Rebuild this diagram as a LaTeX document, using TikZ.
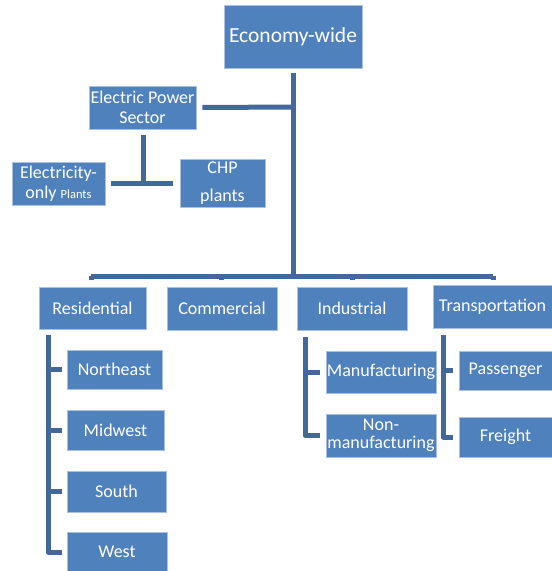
\documentclass[tikz,border=0pt]{standalone}
\usepackage{fontspec}
\setmainfont{Carlito}
\begin{document}
\begin{tikzpicture}[x=1pt,y=-1pt,
  box/.style={rectangle, fill=boxblue, draw=boxedge, line width=0.6pt, text=white, align=center, inner sep=0pt, font=\fontsize{18}{20}\selectfont},
  conn/.style={draw=linkblue, line width=5pt, line join=round, line cap=butt}]
\definecolor{boxblue}{HTML}{4F81BD}
\definecolor{boxedge}{HTML}{A9C0DE}
\definecolor{linkblue}{HTML}{43699B}
\useasboundingbox (0,0) rectangle (552,571);
% nodes
\node[box, minimum width=138pt, minimum height=63pt, font=\fontsize{21.5}{24}\selectfont] (econ) at (293,36.5) {Economy-wide};
\node[box, minimum width=107pt, minimum height=43pt, font=\fontsize{18}{20}\selectfont] (eps) at (142.5,107.5) {Electric Power\\Sector};
\node[box, minimum width=93pt, minimum height=43pt, font=\fontsize{18}{20}\selectfont] (elec) at (58.5,183.5) {Electricity-\\only {\fontsize{12.5}{14}\selectfont Plants}};
\node[box, minimum width=85pt, minimum height=48pt, font=\fontsize{18}{28}\selectfont] (chp) at (222.5,183) {CHP\\plants};
\node[box, minimum width=107pt, minimum height=42pt] (res) at (92.5,308) {Residential};
\node[box, minimum width=110pt, minimum height=43pt] (com) at (222,308.5) {Commercial};
\node[box, minimum width=110pt, minimum height=43pt] (ind) at (352,308.5) {Industrial};
\node[box, minimum width=119pt, minimum height=43pt] (tra) at (492.5,306.5) {Transportation};
\node[box, minimum width=95pt, minimum height=39pt] (ne) at (114.5,369.5) {Northeast};
\node[box, minimum width=97pt, minimum height=40pt] (mw) at (115.5,430) {Midwest};
\node[box, minimum width=99pt, minimum height=41pt] (so) at (116.5,491.5) {South};
\node[box, minimum width=100pt, minimum height=40pt] (we) at (117,552) {West};
\node[box, minimum width=110pt, minimum height=42pt] (man) at (381,372) {Manufacturing};
\node[box, minimum width=110pt, minimum height=43pt, font=\fontsize{18}{18}\selectfont] (non) at (381,435.5) {Non-\\manufacturing};
\node[box, minimum width=93pt, minimum height=39pt] (pas) at (505.5,370.5) {Passenger};
\node[box, minimum width=93pt, minimum height=40pt] (fre) at (505.5,437) {Freight};
% junction coordinates
\coordinate (trtop) at (293,73);
\coordinate (trjoin) at (293,107);
\coordinate (trbot) at (293,276);
\coordinate (bl) at (91,276);
\coordinate (br) at (493,276);
\coordinate (epsdown) at (143,135);
\coordinate (epsj) at (143,183);
% trunk
\path[conn] (trtop) -- (trbot);
\path[conn] ([xshift=6pt]eps.east) -- (trjoin);
\path[conn] (bl) -- (br);
\path[conn] (bl) -- ++(0,4);
\path[conn] (br) -- ++(0,4);
\path[conn] (221,276) -- (221,280);
\path[conn] (352,276) -- (352,280);
% electric power
\path[conn] (epsdown) -- (epsj);
\path[conn] ([xshift=6pt]elec.east |- epsj) -- ([xshift=-7pt]chp.west |- epsj);
% residential bracket
\coordinate (rb0) at (48,335);
\path[conn] (rb0) -- (rb0 |- we.west) -- ([xshift=-5pt]we.west);
\path[conn] (rb0 |- ne.west) -- ([xshift=-5pt]ne.west);
\path[conn] (rb0 |- mw.west) -- ([xshift=-5pt]mw.west);
\path[conn] (rb0 |- so.west) -- ([xshift=-5pt]so.west);
% industrial bracket
\coordinate (ib0) at (305,337);
\path[conn] (ib0) -- (ib0 |- non.west) -- ([xshift=-6pt]non.west);
\path[conn] (ib0 |- man.west) -- ([xshift=-6pt]man.west);
% transportation bracket
\coordinate (tb0) at (443,335);
\path[conn] (tb0) -- (tb0 |- fre.west) -- ([xshift=-6pt]fre.west);
\path[conn] (tb0 |- pas.west) -- ([xshift=-6pt]pas.west);
\end{tikzpicture}
\end{document}
